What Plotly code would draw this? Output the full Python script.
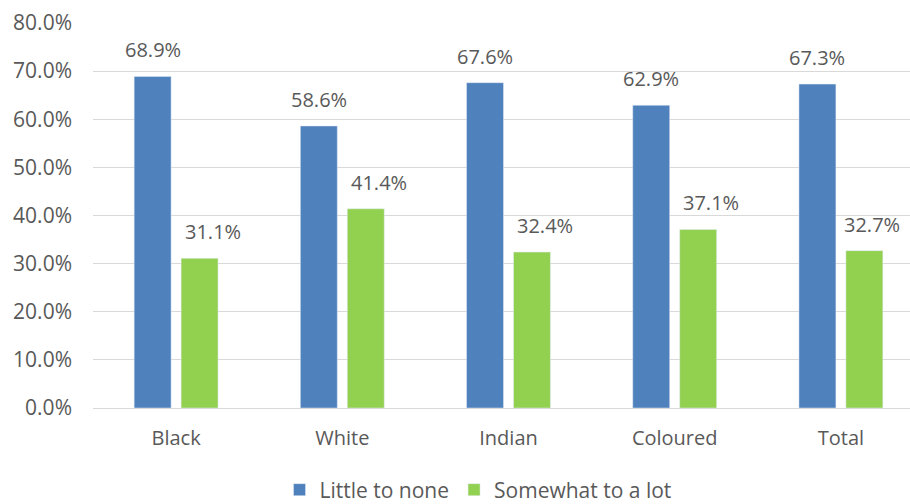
import plotly.graph_objects as go

categories = ["Black", "White", "Indian", "Coloured", "Total"]
little_to_none = [68.9, 58.6, 67.6, 62.9, 67.3]
somewhat_to_lot = [31.1, 41.4, 32.4, 37.1, 32.7]
y_ticks = [0, 10, 20, 30, 40, 50, 60, 70, 80]

# label placement offsets (px) – style only
blue_dx = [-23.5] * 5
green_dx = [36.5, 36.5, 36.5, 36.5, 31.0]

blue = "#4F81BD"
green = "#92D050"
txt = "#595959"
font_family = "Open Sans, Liberation Sans, sans-serif"

fig = go.Figure()
fig.add_trace(go.Bar(name="Little to none", x=categories, y=little_to_none, marker_color=blue))
fig.add_trace(go.Bar(name="Somewhat to a lot", x=categories, y=somewhat_to_lot, marker_color=green))

annotations = []
for vals, dxs in ((little_to_none, blue_dx), (somewhat_to_lot, green_dx)):
    for c, v, dx in zip(categories, vals, dxs):
        annotations.append(dict(x=c, y=v, xref="x", yref="y", text=f"{v:.1f}%",
                                showarrow=False, yanchor="bottom", xshift=dx, yshift=11,
                                font=dict(size=20, color=txt, family=font_family)))

fig.update_layout(
    width=924, height=504,
    margin=dict(l=93, r=0, t=23, b=96, autoexpand=False),
    paper_bgcolor="white", plot_bgcolor="white",
    barmode="group", bargap=0.435, bargroupgap=0.213,
    font=dict(family=font_family, color=txt, size=20),
    showlegend=True,
    legend=dict(orientation="h", xref="container", x=478 / 924, xanchor="center",
                yref="container", y=14 / 504, yanchor="middle",
                font=dict(size=21, color=txt), itemwidth=30, traceorder="normal"),
    annotations=annotations,
)
fig.update_yaxes(range=[0, 80], tickvals=y_ticks, ticktext=[f"{t:.1f}%" for t in y_ticks],
                 showgrid=True, gridcolor="#D9D9D9", gridwidth=1, zeroline=False,
                 showline=False, ticks="", ticklabelstandoff=20, tickfont=dict(size=21, color=txt))
fig.update_xaxes(showline=True, linecolor="#D9D9D9", linewidth=1, ticks="",
                 tickfont=dict(size=20, color=txt), ticklabelstandoff=12)

fig.write_html("out.html", config={"displayModeBar": False},
               post_script="document.body.style.margin='0';document.body.style.overflow='hidden';")
